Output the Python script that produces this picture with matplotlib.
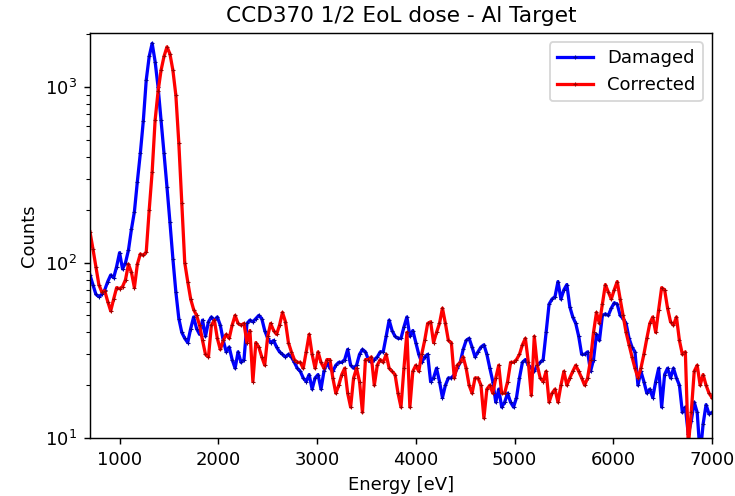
import numpy as np
import matplotlib
matplotlib.use('Agg')
import matplotlib.pyplot as plt

# 能量轴 (eV)，30 eV 一个点
energy = np.arange(700, 7001, 30)

damaged = [
    85, 75, 66, 64, 66, 70, 78, 85, 82, 95,
    114, 92, 100, 118, 155, 195, 290, 420, 640, 1100,
    1500, 1780, 1400, 1000, 650, 420, 270, 170, 105, 68,
    48, 40, 37, 35, 42, 49, 42, 39, 47, 38,
    46, 49, 47, 49, 44, 36, 31, 33, 28, 25,
    31, 27, 28, 45, 47, 46, 48, 50, 48, 41,
    37, 35, 36, 33, 31, 30, 29, 30, 29, 27,
    25, 24, 22, 21, 23, 19, 22, 23, 19, 24,
    27, 25, 24, 26, 27, 27, 28, 32, 26, 25,
    26, 30, 32, 31, 28, 27, 28, 29, 31, 31,
    38, 47, 41, 38, 37, 37, 43, 49, 38, 41,
    35, 30, 27, 29, 30, 21, 22, 25, 21, 17,
    20, 22, 22, 23, 25, 27, 32, 36, 37, 33,
    29, 31, 33, 34, 30, 25, 21, 16, 19, 15,
    16, 18, 16, 15, 17, 22, 27, 28, 26, 25,
    24, 26, 27, 28, 40, 58, 62, 64, 78, 62,
    70, 75, 56, 49, 45, 38, 30, 30, 31, 24,
    28, 39, 36, 50, 51, 50, 55, 59, 58, 50,
    48, 45, 37, 33, 31, 20, 24, 21, 18, 19,
    17, 21, 25, 15, 23, 25, 22, 25, 22, 20,
    14, 15, 10.5, 12.5, 16, 14, 8, 12, 15.5, 13.7,
    14,
]

corrected = [
    150, 120, 95, 75, 68, 69, 60, 53, 62, 72,
    71, 73, 80, 98, 88, 72, 98, 112, 110, 115,
    200, 330, 650, 950, 1250, 1500, 1700, 1550, 1250, 900,
    480, 220, 100, 78, 62, 54, 50, 44, 36, 30,
    29, 44, 47, 37, 32, 36, 39, 37, 44, 50,
    45, 44, 45, 35, 41, 21, 35, 33, 29, 26,
    38, 45, 41, 39, 44, 52, 46, 35, 31, 28,
    27, 27, 25, 31, 39, 30, 25, 31, 27, 25,
    28, 28, 22, 18, 20, 23, 25, 18, 15, 22,
    25, 21, 14, 28, 28, 29, 20, 26, 28, 27,
    30, 25, 24, 23, 18, 15, 25, 40, 15, 24,
    26, 24, 30, 36, 45, 46, 35, 40, 45, 55,
    45, 36, 35, 22, 26, 27, 29, 25, 20, 18,
    22, 22, 20, 13, 19, 20, 18, 22, 26, 18,
    18, 21, 27, 27, 28, 30, 34, 37, 27, 17.5,
    38, 26, 22, 21, 24, 16, 18, 19, 16, 20,
    24, 20, 22, 24, 26, 24, 22, 20, 22, 28,
    40, 52, 45, 58, 75, 68, 62, 70, 78, 62,
    50, 40, 34, 29, 25, 22, 25, 30, 37, 45,
    49, 40, 54, 72, 70, 55, 46, 44, 49, 36,
    30, 31, 9, 14, 24, 26, 20, 23, 20, 18,
    17,
]

fig = plt.figure(figsize=(735 / 130, 496 / 130), dpi=130)
ax = fig.add_subplot(111)
fig.subplots_adjust(left=0.1224, right=0.9687, top=0.9335, bottom=0.1169)

ax.plot(energy, damaged, color='blue', linewidth=1.8, marker='+', markersize=2.5,
        markeredgewidth=0.6, markeredgecolor='#0000a0', label='Damaged')
ax.plot(energy, corrected, color='red', linewidth=1.8, marker='+', markersize=2.5,
        markeredgewidth=0.6, markeredgecolor='#a00000', label='Corrected')

ax.set_yscale('log')
ax.set_xlim(700, 7000)
ax.set_ylim(10, 2040)
ax.set_title('CCD370 1/2 EoL dose - Al Target')
ax.set_xlabel('Energy [eV]')
ax.set_ylabel('Counts')
ax.legend(loc='upper right')

fig.savefig('out.png', dpi=130)
